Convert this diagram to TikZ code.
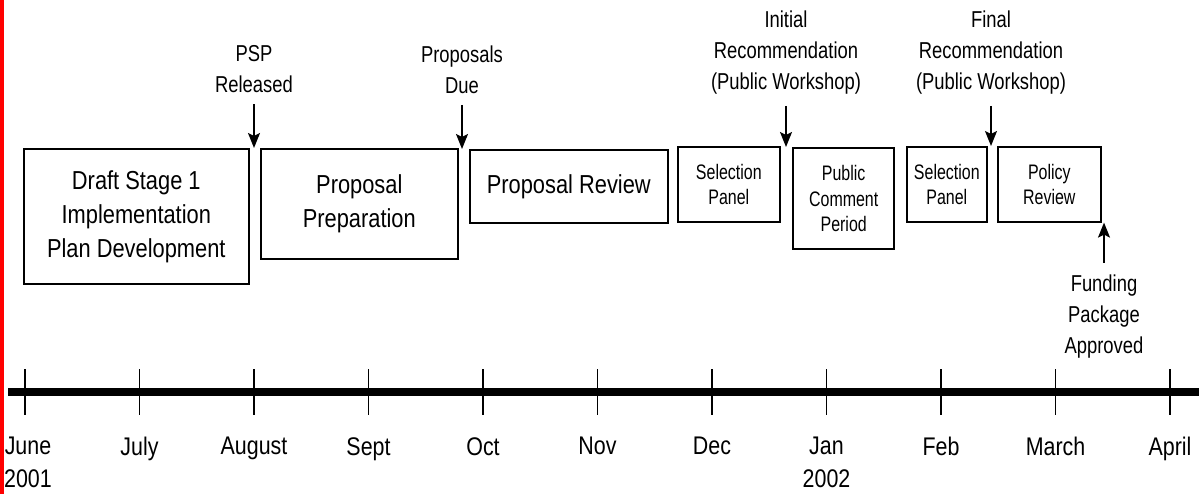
\documentclass[tikz,border=0pt]{standalone}
\usepackage{fontspec}
\setmainfont{Liberation Sans}[FakeStretch=0.84]
\newfontfamily\eventfont{Liberation Sans}[FakeStretch=0.8]
\newfontfamily\smallfont{Liberation Sans}[FakeStretch=0.76]
\usetikzlibrary{arrows.meta,positioning}

\begin{document}
\begin{tikzpicture}[x=1pt, y=-1pt,
		basic/.style  = {draw, rectangle, line width=1.6pt, inner sep=0pt, align=center, anchor=north west},
		stage/.style  = {basic, font=\fontsize{26}{34}\selectfont},
		short/.style  = {basic, font=\smallfont\fontsize{21}{25.5}\selectfont},
		event/.style  = {inner sep=0pt, align=center, anchor=north, font=\eventfont\fontsize{23}{31}\selectfont},
		month/.style  = {inner sep=0pt, align=center, anchor=north, font=\fontsize{25.5}{33}\selectfont},
		>={Stealth[length=15pt, width=12pt, inset=3pt]}]
		
		\useasboundingbox (0,0) rectangle (1199,494);
		\fill[red] (0,0) rectangle (4,494);
		
		% the stages, placed by their upper left corners
		\node[stage, minimum width=225pt, minimum height=135pt] (b1) at (23,148) {Draft Stage 1\\Implementation\\Plan Development};
		\node[stage, minimum width=197pt, minimum height=110pt] (b2) at (260,148) {Proposal\\Preparation};
		\node[stage, minimum width=198pt, minimum height=73pt] (b3) at (469,149) {Proposal Review};
		\node[short, minimum width=102pt, minimum height=75pt] (b4) at (677,146) {Selection\\Panel};
		\node[short, minimum width=101pt, minimum height=101pt, line width=2.4pt] (b5) at (792,147) {Public\\Comment\\Period};
		\node[short, minimum width=80pt, minimum height=75pt] (b6) at (906,146) {Selection\\Panel};
		\node[short, minimum width=103pt, minimum height=75pt] (b7) at (997,146) {Policy\\Review};
		
		% the events above and below the stages
		\node[event] (e1) at (254,45.5) {PSP\\Released};
		\node[event] (e2) at (462,45.5) {Proposals\\Due};
		\node[event] (e3) at (786,11) {Initial\\Recommendation\\(Public Workshop)};
		\node[event] (e4) at (991,11) {Final\\Recommendation\\(Public Workshop)};
		\node[event] (e5) at (1104,275) {Funding\\Package\\Approved};
		
		% arrows from each event to its place between the stages
		\begin{scope}[line width=1.6pt, shorten <=11pt]
		\draw[->] (e1) -- (e1 |- b2.north);
		\draw[->] (e2) -- (e2 |- b3.north);
		\draw[->] (e3) -- (e3 |- b5.north);
		\draw[->] (e4) -- (e4 |- b7.north);
		\draw[->, shorten <=12pt] (e5) -- (e5 |- b7.south);
		\end{scope}
		
		% the time line with one tick for every month
		\draw[line width=8pt] (8,392) -- (1199,392);
		\foreach \name [count=\i from 0] in {June\\2001, July, August, Sept, Oct, Nov, Dec, Jan\\2002, Feb, March, April}
		{
			\draw[line width=1.6pt] (25+114.5*\i,369) -- (25+114.5*\i,415);
			\node[month] (m\i) at ({25+114.5*\i+3*(\i==0)},437) {\name};
		}
		
	\end{tikzpicture}
\end{document}
